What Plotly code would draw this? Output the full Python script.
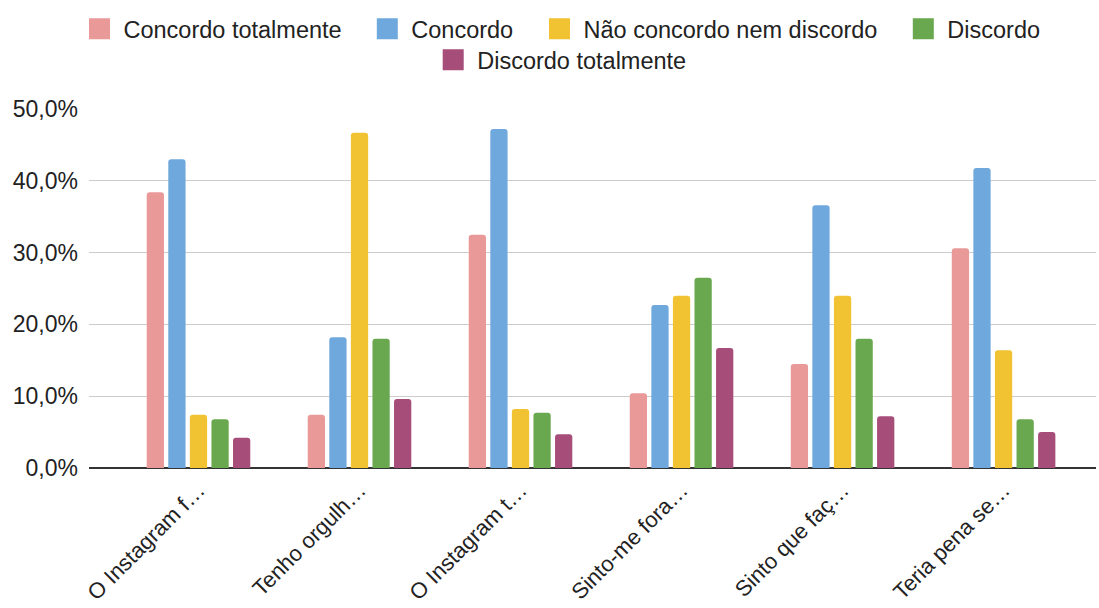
import plotly.graph_objects as go

categories = ["O Instagram f…", "Tenho orgulh…", "O Instagram t…", "Sinto-me fora…", "Sinto que faç…", "Teria pena se…"]
series_names = ["Concordo totalmente", "Concordo", "Não concordo nem discordo", "Discordo", "Discordo totalmente"]
concordo_totalmente = [0.384, 0.074, 0.325, 0.104, 0.145, 0.306]
concordo = [0.430, 0.182, 0.472, 0.227, 0.366, 0.418]
nem = [0.074, 0.467, 0.082, 0.240, 0.240, 0.164]
discordo = [0.068, 0.180, 0.077, 0.265, 0.180, 0.068]
discordo_totalmente = [0.042, 0.096, 0.047, 0.167, 0.072, 0.050]
colors = ["#EA9999", "#6FA8DC", "#F1C232", "#6AA84F", "#A64D79"]
ytick_vals = [0, 0.1, 0.2, 0.3, 0.4, 0.5]
ytick_text = ["0,0%", "10,0%", "20,0%", "30,0%", "40,0%", "50,0%"]

values = [concordo_totalmente, concordo, nem, discordo, discordo_totalmente]

# legend layout (swatch centre x, row centre y) in pixels
legend_pos = [(95.5, 29), (383.3, 29), (555.5, 29), (919.3, 29), (449.2, 60)]
W, H = 1099, 608

FONT = "Liberation Sans, Arial, sans-serif"
TXT = "#222222"

fig = go.Figure()
for i, (name, vals, col) in enumerate(zip(series_names, values, colors)):
    fig.add_trace(go.Bar(
        x=list(range(len(categories))), y=vals, name=name, showlegend=False,
        marker=dict(color=col, cornerradius=3, line=dict(width=0)),
    ))
for i, (name, col) in enumerate(zip(series_names, colors)):
    lg = "legend" if i == 0 else f"legend{i + 1}"
    fig.add_trace(go.Scatter(
        x=[None], y=[None], name=name, mode="markers", legend=lg,
        marker=dict(symbol="square", size=16, color=col, line=dict(color=col, width=5)),
        hoverinfo="skip",
    ))

layout_legends = {}
for i, (cx, cy) in enumerate(legend_pos):
    key = "legend" if i == 0 else f"legend{i + 1}"
    layout_legends[key] = dict(
        orientation="h", xref="container", yref="container",
        x=(cx - 20) / W, xanchor="left", y=1 - cy / H, yanchor="middle",
        font=dict(family=FONT, size=23.5, color=TXT), itemwidth=38,
        itemsizing="trace", bgcolor="rgba(0,0,0,0)", borderwidth=0,
    )

fig.update_layout(
    width=W, height=H,
    barmode="group", bargap=0.33, bargroupgap=0.2,
    plot_bgcolor="white", paper_bgcolor="white",
    font=dict(family=FONT, size=22, color=TXT),
    margin=dict(l=89, r=3, t=109, b=140, autoexpand=False),
    xaxis=dict(
        tickmode="array", tickvals=list(range(len(categories))), ticktext=categories,
        tickangle=-45, range=[-0.68, 5.574], showgrid=False, zeroline=False,
        showline=False, ticks="", tickfont=dict(size=22, color=TXT),
        ticklabelstandoff=4, automargin=False,
    ),
    yaxis=dict(
        range=[0, 0.5], tickvals=ytick_vals, ticktext=ytick_text,
        showgrid=True, gridcolor="#CCCCCC", gridwidth=1,
        zeroline=True, zerolinecolor="#333333", zerolinewidth=2,
        ticks="", ticklabelstandoff=10, tickfont=dict(size=23, color=TXT),
        automargin=False,
    ),
    **layout_legends,
)

fig.write_html("out.html")
